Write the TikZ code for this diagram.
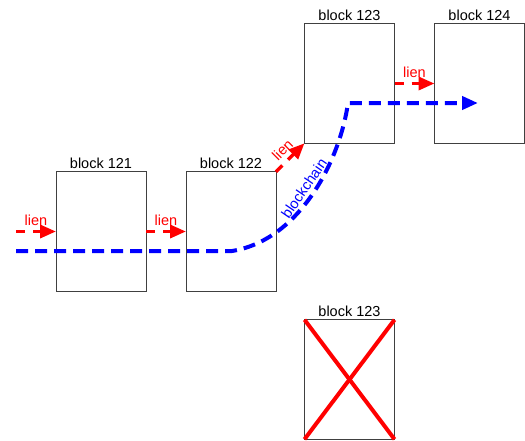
\documentclass[tikz,border=0pt]{standalone}
\usepackage{fontspec}
\setmainfont{Liberation Sans}
\usetikzlibrary{arrows.meta}
\begin{document}
\begin{tikzpicture}[x=1pt,y=-1pt,
  blk/.style={draw=black!75, line width=0.9pt, fill=white, minimum width=90pt, minimum height=119.5pt, inner sep=0pt, outer sep=0pt},
  blklabel/.style={font=\fontsize{14.5}{16}\selectfont, inner sep=3pt},
  lienarrow/.style={draw=red, line width=3.5pt, dash pattern=on 9pt off 8pt, -{Triangle[length=16pt,width=13pt]}},
  lientext/.style={text=red, font=\fontsize{14.5}{16}\selectfont, inner sep=1pt},
  chain/.style={draw=blue, line width=4pt, dash pattern=on 12pt off 7pt, -{Triangle[length=16pt,width=13pt]}},
  cross/.style={draw=red, line width=4pt}]
\useasboundingbox (0,0) rectangle (525,440);
\node[blk, label={[blklabel]above:block 121}] (b121) at (101,231.5) {};
\node[blk, label={[blklabel]above:block 122}] (b122) at (231,231.5) {};
\node[blk, label={[blklabel]above:block 123}] (b123) at (349.5,83.5) {};
\node[blk, label={[blklabel]above:block 124}] (b124) at (479.5,83.5) {};
\node[blk, label={[blklabel]above:block 123}] (b123x) at (349.5,379.5) {};
\coordinate (lstart) at (16,231.5);
\coordinate (cstart) at (16,251);
\coordinate (cbend) at (232,251);
\coordinate (ctop) at (348,103);
\coordinate (cend) at (478,103);
\draw[lienarrow] (lstart) -- node[lientext, above=3pt] {lien} (b121.west);
\draw[lienarrow] (b121.east) -- node[lientext, above=3pt] {lien} (b122.west);
\draw[lienarrow] (b122.north east) -- node[lientext, sloped, above=3pt] {lien} (b123.south west);
\draw[lienarrow] (b123.east) -- node[lientext, above=3pt] {lien} (b124.west);
\draw[chain] (cstart) -- (cbend) .. controls (300,240) and (340,160) .. node[pos=0.5, sloped, above=2pt, text=blue, font=\fontsize{14.5}{16}\selectfont, inner sep=1pt] {blockchain} (ctop) -- (cend);
\draw[cross] (b123x.north west) -- (b123x.south east);
\draw[cross] (b123x.north east) -- (b123x.south west);
\end{tikzpicture}
\end{document}
